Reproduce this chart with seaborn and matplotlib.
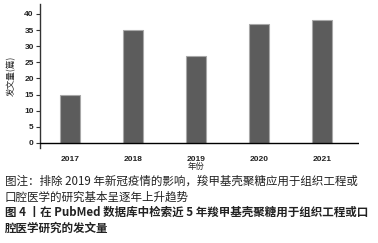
import matplotlib
matplotlib.use("Agg")
import matplotlib.pyplot as plt
import seaborn as sns
import pandas as pd

years = ["2017", "2018", "2019", "2020", "2021"]
counts = [15, 35, 27, 37, 38]
yticks = [0, 5, 10, 15, 20, 25, 30, 35, 40]
ylabel = "发文量(篇)"
xlabel = "年份"
caption_lines = [
    "图注：排除 2019 年新冠疫情的影响，羧甲基壳聚糖应用于组织工程或",
    "口腔医学的研究基本呈逐年上升趋势",
    "图 4 丨在 PubMed 数据库中检索近 5 年羧甲基壳聚糖用于组织工程或口",
    "腔医学研究的发文量",
]

sns.set_style("white")
plt.rcParams["font.family"] = ["Noto Sans CJK SC", "DejaVu Sans"]

df = pd.DataFrame({"year": years, "count": counts})

fig = plt.figure(figsize=(3.78, 2.43), dpi=100)
ax = fig.add_axes([40 / 378, 1 - 148 / 243, (359 - 40) / 378, (148 - 4) / 243])

sns.barplot(data=df, x="year", y="count", color="#5c5c5c", width=0.31,
            edgecolor="#a8a8a8", linewidth=0.8, saturation=1, ax=ax)

ax.set_xlim(-0.48, 4.59)
ax.set_ylim(-1.6, 43.1)
ax.set_yticks(yticks)
ax.axhline(0, color="black", linewidth=1.0, zorder=5)

for s in ["top", "right", "bottom"]:
    ax.spines[s].set_visible(False)
ax.spines["left"].set_color("#333333")
ax.spines["left"].set_linewidth(1.0)

ax.tick_params(axis="y", left=True, length=3, width=0.8, color="#333333",
               labelsize=6, pad=1.5, labelcolor="#222222")
ax.tick_params(axis="x", bottom=False, labelsize=6, pad=2, labelcolor="#222222")
for lab in ax.get_xticklabels() + ax.get_yticklabels():
    lab.set_fontfamily("Liberation Sans")
    lab.set_fontweight("bold")
ax.set_xlabel(xlabel, fontsize=6, color="#222222", va="center")
ax.xaxis.set_label_coords((196 - 40) / 319, (148 - 166) / 144)
ax.set_ylabel(ylabel, fontsize=6.2, labelpad=6, color="#222222")

ys = [181, 197, 212, 228]
for i, (line, y) in enumerate(zip(caption_lines, ys)):
    fig.text(5 / 378, 1 - y / 243, line, fontsize=8.3, va="center", ha="left",
             fontweight="bold" if i >= 2 else "normal", color="#222222")

fig.savefig("out.png", dpi=100)
